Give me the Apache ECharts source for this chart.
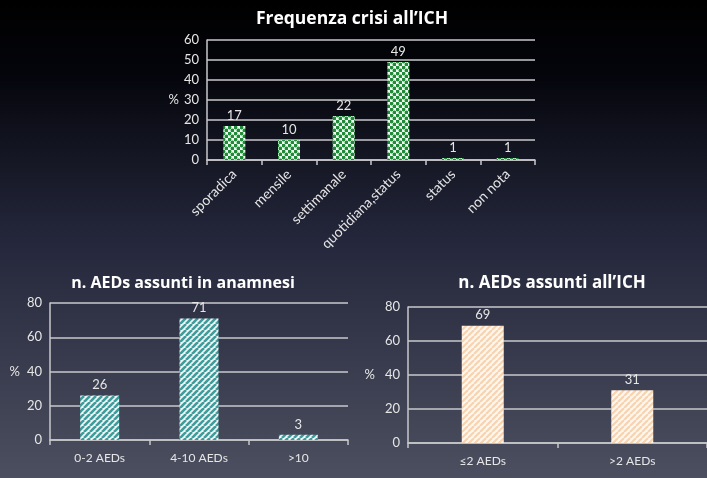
<!DOCTYPE html>
<html><head><meta charset="utf-8">
<script src="https://cdn.jsdelivr.net/npm/echarts@6/dist/echarts.min.js"></script>
<style>html,body{margin:0;padding:0;background:#000}#c{width:707px;height:478px}</style>
</head><body><div id="c"></div>
<script>
var crisiCategories = ['sporadica','mensile','settimanale','quotidiana,status','status','non nota'];
var crisiValues = [17, 10, 22, 49, 1, 1];
var anamnesiCategories = ['0-2 AEDs','4-10 AEDs','>10'];
var anamnesiValues = [26, 71, 3];
var ichCategories = ['≤2 AEDs','>2 AEDs'];
var ichValues = [69, 31];

function dots(){
  var c=document.createElement('canvas');c.width=6;c.height=6;var g=c.getContext('2d');
  g.fillStyle='#f4f8f4';g.fillRect(0,0,6,6);
  g.fillStyle='#1f8a38';
  [[1.5,1.5],[4.5,4.5]].forEach(function(p){g.beginPath();g.arc(p[0],p[1],1.9,0,Math.PI*2);g.fill();});
  return c;
}
function stripes(col,bg,size,w){
  var c=document.createElement('canvas');c.width=size;c.height=size;var g=c.getContext('2d');
  g.fillStyle=bg;g.fillRect(0,0,size,size);
  g.strokeStyle=col;g.lineWidth=w;
  for(var k=-1;k<=1;k++){g.beginPath();g.moveTo(k*size,size);g.lineTo(k*size+size,0);g.stroke();}
  return c;
}
var font='Lato';
var tfont='Open Sans';
var txt='#e6e6e6';
var gridCol='#c8c8cc';
function yAxis(idx,max,interval,gap){
  return {type:'value',gridIndex:idx,min:0,max:max,interval:interval,
    name:'%',nameLocation:'middle',nameRotate:0,nameGap:gap,
    nameTextStyle:{color:txt,fontFamily:font,fontSize:13},
    axisLine:{show:true,lineStyle:{color:gridCol,width:1.5}},axisTick:{show:false},
    axisLabel:{color:txt,fontFamily:font,fontSize:13,margin:8},
    splitLine:{lineStyle:{color:gridCol,width:1.5}}};
}
function xAxis(idx,data,rot,fs){
  return {type:'category',gridIndex:idx,data:data,
    axisLine:{lineStyle:{color:gridCol,width:1.5}},
    axisTick:{show:true,length:5,lineStyle:{color:gridCol,width:1.5}},
    axisLabel:{color:txt,fontFamily:font,fontSize:fs,rotate:rot,margin:12,interval:0}};
}
var chart=echarts.init(document.getElementById('c'),null,{renderer:'canvas'});
var lbl={show:true,position:'top',color:txt,fontFamily:font,fontSize:13,distance:4};
function ts(fs){return {color:'#ffffff',fontFamily:tfont,fontWeight:'bold',fontSize:fs};}
chart.setOption({
  backgroundColor:{type:'linear',x:0,y:0,x2:0,y2:1,colorStops:[
    {offset:0,color:'#000000'},{offset:0.15,color:'#04050b'},{offset:0.5,color:'#24273b'},{offset:1,color:'#4c4f5f'}]},
  animation:false,
  title:[
    {text:'Frequenza crisi all’ICH',left:347,top:5,textAlign:'center',textStyle:ts(17.5)},
    {text:'n. AEDs assunti in anamnesi',left:178,top:270,textAlign:'center',textStyle:ts(16)},
    {text:'n. AEDs assunti all’ICH',left:547,top:270,textAlign:'center',textStyle:ts(17)}
  ],
  grid:[
    {left:207,right:172,top:40,bottom:318},
    {left:50,right:359,top:303,bottom:38},
    {left:408,right:-1,top:307,bottom:35}
  ],
  xAxis:[xAxis(0,crisiCategories,45,14),xAxis(1,anamnesiCategories,0,12),xAxis(2,ichCategories,0,12)],
  yAxis:[yAxis(0,60,10,28),yAxis(1,80,20,30),yAxis(2,80,20,33)],
  series:[
    {type:'bar',xAxisIndex:0,yAxisIndex:0,data:crisiValues,barWidth:22,label:lbl,
      itemStyle:{color:{image:dots(),repeat:'repeat'}}},
    {type:'bar',xAxisIndex:1,yAxisIndex:1,data:anamnesiValues,barWidth:39,label:lbl,
      itemStyle:{color:{image:stripes('#3f9c9c','#f2f6f6',6,2.6),repeat:'repeat'}}},
    {type:'bar',xAxisIndex:2,yAxisIndex:2,data:ichValues,barWidth:42,label:lbl,
      itemStyle:{color:{image:stripes('#f7d3b0','#fdf7f0',6,2.2),repeat:'repeat'}}}
  ]
});
</script></body></html>
